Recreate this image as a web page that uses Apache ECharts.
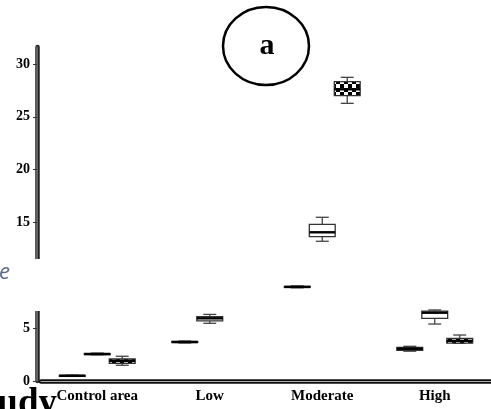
<!DOCTYPE html>
<html lang="en">
<head>
    <meta http-equiv="Content-Type" content="text/html; charset=utf-8"/>
    <title>Boxplot a</title>
    <script type="text/javascript" src="https://cdn.jsdelivr.net/npm/echarts@6.0.0/dist/echarts.min.js"></script>
</head>
<style>
    * {
        margin: 0;
        padding: 0;
    }
    html, body {
        width: 100%;
        height: 100%;
        background: #fff;
    }
    .main {
        width: 491px;
        height: 409px;
    }
</style>
<body>
<div id="main" class="main"></div>
</body>
<script type="text/javascript">

    var categories = ['Control area', 'Low', 'Moderate', 'High'];
    // [min, Q1, median, Q3, max] per category, null = no box
    var group1 = [
        [0.45, 0.47, 0.5, 0.53, 0.55],
        [3.6, 3.64, 3.69, 3.74, 3.78],
        [8.82, 8.86, 8.9, 8.95, 9.0],
        [2.82, 2.9, 3.05, 3.18, 3.28]
    ];
    var group2 = [
        [2.48, 2.5, 2.55, 2.6, 2.64],
        [5.46, 5.68, 5.93, 6.08, 6.3],
        [13.22, 13.65, 14.07, 14.82, 15.49],
        [5.39, 5.93, 6.46, 6.62, 6.72]
    ];
    var group3 = [
        [1.49, 1.67, 1.9, 2.08, 2.34],
        null,
        [26.27, 27.0, 27.6, 28.32, 28.73],
        [3.56, 3.58, 3.8, 4.04, 4.35]
    ];
    var yTicks = [0, 5, 15, 20, 25, 30];

    var serif = '"Liberation Serif", "DejaVu Serif", serif';

    // checkered fill for the third group
    var checker = document.createElement('canvas');
    checker.width = 8;
    checker.height = 8;
    var ctx = checker.getContext('2d');
    ctx.fillStyle = '#fff';
    ctx.fillRect(0, 0, 8, 8);
    ctx.fillStyle = '#000';
    ctx.fillRect(0, 0, 4, 4);
    ctx.fillRect(4, 4, 4, 4);

    function toData(list) {
        var out = [];
        list.forEach(function (s, i) {
            if (s) out.push([i].concat(s));
        });
        return out;
    }

    // slot: -1 / 0 / 1 position inside the category band
    function makeRender(slot, fill) {
        return function (params, api) {
            var cat = api.value(0);
            var band = api.size([1, 0])[0];
            var w = band * 0.23;
            var x = api.coord([cat, 0])[0] + slot * band * 0.222;
            var yMin = api.coord([cat, api.value(1)])[1];
            var yQ1 = api.coord([cat, api.value(2)])[1];
            var yMed = api.coord([cat, api.value(3)])[1];
            var yQ3 = api.coord([cat, api.value(4)])[1];
            var yMax = api.coord([cat, api.value(5)])[1];
            var line = {stroke: '#444', lineWidth: 1.3};
            return {
                type: 'group',
                children: [
                    {type: 'line', shape: {x1: x, y1: yMax, x2: x, y2: yQ3}, style: line},
                    {type: 'line', shape: {x1: x, y1: yQ1, x2: x, y2: yMin}, style: line},
                    {type: 'line', shape: {x1: x - w / 4, y1: yMax, x2: x + w / 4, y2: yMax}, style: line},
                    {type: 'line', shape: {x1: x - w / 4, y1: yMin, x2: x + w / 4, y2: yMin}, style: line},
                    {
                        type: 'rect',
                        shape: {x: x - w / 2, y: yQ3, width: w, height: Math.max(yQ1 - yQ3, 1)},
                        style: {fill: fill, stroke: '#333', lineWidth: 1.3}
                    },
                    {type: 'line', shape: {x1: x - w / 2, y1: yMed, x2: x + w / 2, y2: yMed},
                        style: {stroke: '#000', lineWidth: 2.4}}
                ]
            };
        };
    }

    var chart = echarts.init(document.getElementById('main'));

    var option = {
        backgroundColor: '#fff',
        animation: false,
        grid: {left: 41, top: 47, width: 453, bottom: 28},
        xAxis: [
            {
                type: 'category',
                data: categories,
                axisLine: {lineStyle: {color: '#111', width: 4.5}},
                axisTick: {alignWithLabel: true, length: 6, lineStyle: {color: '#333', width: 1}},
                axisLabel: {
                    color: '#000',
                    fontFamily: serif,
                    fontWeight: 'bold',
                    fontSize: 15,
                    margin: 8
                },
                splitLine: {show: false}
            },
            // light middle stroke, gives the double line look
            {
                type: 'category',
                data: categories,
                position: 'bottom',
                offset: 0,
                axisLine: {lineStyle: {color: '#aaa', width: 1.2}},
                axisTick: {show: false},
                axisLabel: {show: false}
            }
        ],
        yAxis: [
            {
                type: 'value',
                min: 0,
                max: 31.6,
                offset: 4,
                axisLine: {show: true, lineStyle: {color: '#222', width: 4.5}},
                axisTick: {show: true, customValues: yTicks, length: 4, lineStyle: {color: '#333', width: 1}},
                axisLabel: {
                    customValues: yTicks,
                    color: '#000',
                    fontFamily: serif,
                    fontWeight: 'bold',
                    fontSize: 14,
                    margin: 7
                },
                splitLine: {show: false}
            },
            {
                type: 'value',
                min: 0,
                max: 31.6,
                position: 'left',
                offset: 4,
                axisLine: {show: true, lineStyle: {color: '#777', width: 1.5}},
                axisTick: {show: false},
                axisLabel: {show: false},
                splitLine: {show: false}
            }
        ],
        series: [
            {type: 'custom', name: 'g1', renderItem: makeRender(-1, '#fff'), data: toData(group1), clip: false},
            {type: 'custom', name: 'g2', renderItem: makeRender(0, '#fff'), data: toData(group2), clip: false},
            {type: 'custom', name: 'g3', renderItem: makeRender(1, {image: checker, repeat: 'repeat'}),
                data: toData(group3), clip: false}
        ],
        graphic: [
            // gap in the y axis line
            {type: 'rect', z: 100, shape: {x: 28, y: 259, width: 14, height: 52}, style: {fill: '#fff'}},
            {type: 'text', z: 101, x: -1, y: 273,
                style: {text: 'e', font: 'italic 22px "Open Sans", sans-serif', fill: '#5a6c8e',
                    textVerticalAlign: 'middle'}},
            {type: 'ellipse', z: 101, shape: {cx: 266, cy: 46, rx: 43, ry: 39},
                style: {fill: 'none', stroke: '#000', lineWidth: 2.5}},
            {type: 'text', z: 101, x: 267, y: 46,
                style: {text: 'a', font: 'bold 30px ' + serif, fill: '#000',
                    textAlign: 'center', textVerticalAlign: 'middle'}},
            {type: 'text', z: 101, x: 57, y: 404,
                style: {text: 'Study', font: 'bold 37px ' + serif, fill: '#000',
                    textAlign: 'right', textVerticalAlign: 'middle'}}
        ]
    };
    chart.setOption(option);
</script>

</html>
